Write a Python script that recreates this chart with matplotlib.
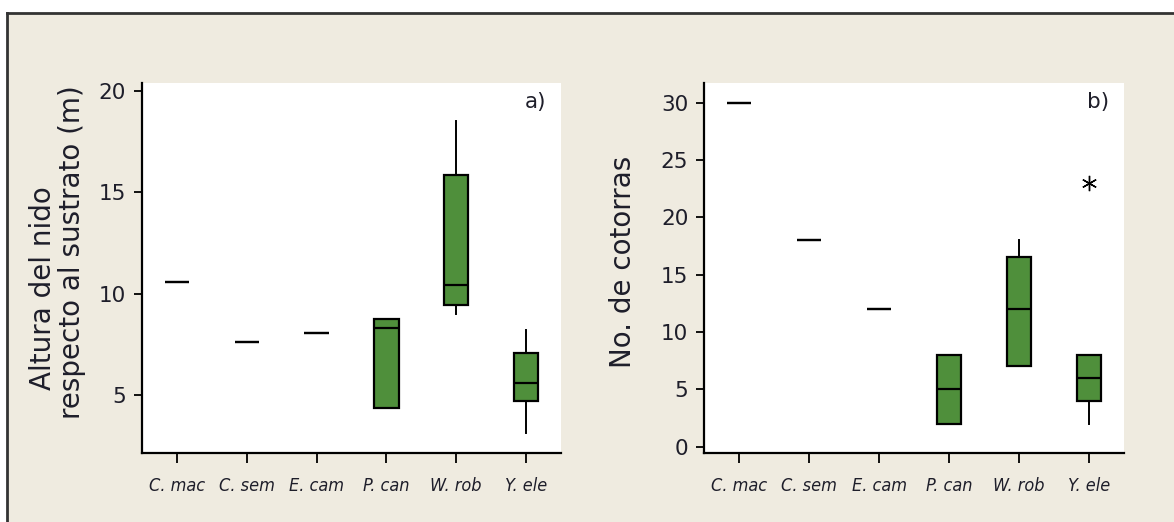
import matplotlib
matplotlib.use("Agg")
import matplotlib.pyplot as plt
from matplotlib.lines import Line2D
from matplotlib.patches import Rectangle

species = ["C. mac", "C. sem", "E. cam", "P. can", "W. rob", "Y. ele"]

# Panel a: nest height (m) -- whislo, q1, med, q3, whishi
a_whislo = [10.6, 7.6, 8.05, 4.35, 9.0, 3.15]
a_q1     = [10.6, 7.6, 8.05, 4.35, 9.45, 4.7]
a_med    = [10.6, 7.6, 8.05, 8.3, 10.45, 5.6]
a_q3     = [10.6, 7.6, 8.05, 8.75, 15.85, 7.1]
a_whishi = [10.6, 7.6, 8.05, 8.75, 18.5, 8.2]
a_fliers = [[], [], [], [], [], []]

# Panel b: number of parakeets
b_whislo = [30, 18, 12, 2, 7, 2]
b_q1     = [30, 18, 12, 2, 7, 4]
b_med    = [30, 18, 12, 5, 12, 6]
b_q3     = [30, 18, 12, 8, 16.5, 8]
b_whishi = [30, 18, 12, 8, 18, 8]
b_fliers = [[], [], [], [], [], [23]]

a_yticks = [5, 10, 15, 20]
b_yticks = [0, 5, 10, 15, 20, 25, 30]

BG = "#efebe0"
GREEN = "#4f8f3b"
TXT = "#1e1e2a"

fig = plt.figure(figsize=(11.74, 5.22), dpi=100)
fig.patch.set_facecolor("white")

# beige panel with border (top & left)
fig.add_artist(Rectangle((7/1174, 0), 1, 1 - 12.5/522, transform=fig.transFigure,
                         facecolor=BG, edgecolor="none", zorder=-10))
fig.add_artist(Line2D([7/1174, 1], [1 - 12.5/522, 1 - 12.5/522], transform=fig.transFigure,
                      color="#333333", lw=2.0, zorder=-5))
fig.add_artist(Line2D([7/1174, 7/1174], [0, 1 - 12.5/522], transform=fig.transFigure,
                      color="#333333", lw=2.0, zorder=-5))

def make_stats(lo, q1, med, q3, hi, fl):
    return [dict(whislo=lo[i], q1=q1[i], med=med[i], q3=q3[i], whishi=hi[i], fliers=fl[i])
            for i in range(len(lo))]

def draw(ax, stats, ylim, yticks, tag):
    ax.set_facecolor("white")
    ax.bxp(stats, positions=range(1, 7), widths=0.35, patch_artist=True,
           showcaps=False, showfliers=True,
           boxprops=dict(facecolor=GREEN, edgecolor="black", linewidth=1.6),
           medianprops=dict(color="black", linewidth=1.6),
           whiskerprops=dict(color="black", linewidth=1.4),
           flierprops=dict(marker=(6, 2, 0), markersize=11, markeredgecolor="black",
                           markeredgewidth=1.0, linestyle="none"))
    ax.set_xlim(0.5, 6.5)
    ax.set_ylim(*ylim)
    ax.set_yticks(yticks)
    ax.set_xticks(range(1, 7))
    ax.set_xticklabels(species, fontstyle="italic", fontsize=13, color=TXT,
                       fontstretch="condensed")
    ax.tick_params(axis="y", length=5.5, width=1.3, labelsize=15.5, labelcolor=TXT, pad=6)
    ax.tick_params(axis="x", length=7, width=1.3, pad=10)
    for s in ["top", "right"]:
        ax.spines[s].set_visible(False)
    for s in ["left", "bottom"]:
        ax.spines[s].set_linewidth(1.6)
    ax.text(0.965, 0.975, tag, transform=ax.transAxes, ha="right", va="top",
            fontsize=15.5, color=TXT)

bottom = 1 - 453/522
top = 1 - 82.7/522
axa = fig.add_axes([142/1174, bottom, (561-142)/1174, top - bottom])
axb = fig.add_axes([704.3/1174, bottom, (1123.7-704.3)/1174, top - bottom])

draw(axa, make_stats(a_whislo, a_q1, a_med, a_q3, a_whishi, a_fliers), (2.15, 20.4), a_yticks, "a)")
draw(axb, make_stats(b_whislo, b_q1, b_med, b_q3, b_whishi, b_fliers), (-0.55, 31.74), b_yticks, "b)")

fig.text(43/1174, 1 - 288/522, "Altura del nido", rotation=90, ha="center", va="center",
         fontsize=20, color=TXT)
fig.text(72/1174, 1 - 252/522, "respecto al sustrato (m)", rotation=90, ha="center", va="center",
         fontsize=20, color=TXT)
fig.text(623/1174, 1 - 262/522, "No. de cotorras", rotation=90, ha="center", va="center",
         fontsize=20, color=TXT)

fig.savefig("out.png", dpi=100, facecolor=fig.get_facecolor())
